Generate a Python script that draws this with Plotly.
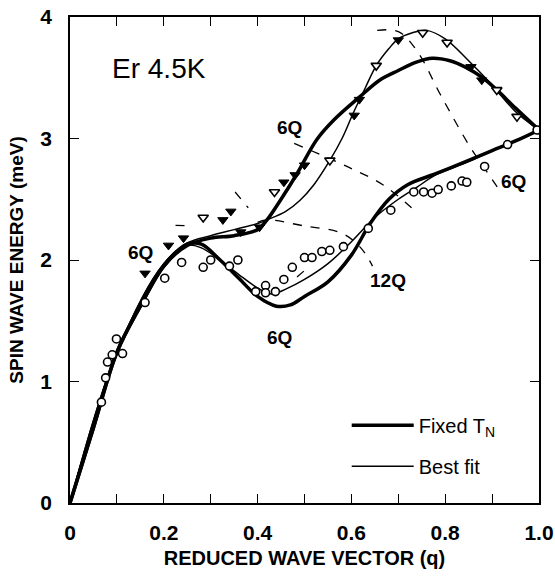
import plotly.graph_objects as go

# ---------------- data ----------------
# lower branch: open circles
circ_q = [0.067, 0.076, 0.080, 0.090, 0.099, 0.112, 0.160, 0.202, 0.238, 0.284, 0.300,
          0.340, 0.358, 0.396, 0.417, 0.417, 0.438, 0.456, 0.474, 0.500, 0.516, 0.537,
          0.554, 0.583, 0.636, 0.684, 0.733, 0.754, 0.772, 0.785, 0.813, 0.836, 0.846,
          0.884, 0.933, 0.996]
circ_E = [0.83, 1.03, 1.16, 1.22, 1.35, 1.23, 1.65, 1.85, 1.98, 1.94, 2.00,
          1.95, 2.00, 1.74, 1.79, 1.73, 1.74, 1.84, 1.94, 2.02, 2.02, 2.07,
          2.08, 2.11, 2.26, 2.41, 2.56, 2.56, 2.55, 2.58, 2.61, 2.65, 2.64,
          2.77, 2.95, 3.07]

# upper branch: open triangles
tri_open_q = [0.284, 0.436, 0.554, 0.653, 0.752, 0.804, 0.910, 0.953]
tri_open_E = [2.35, 2.56, 2.82, 3.60, 3.87, 3.79, 3.40, 3.18]

# upper branch: filled triangles
tri_fill_q = [0.160, 0.210, 0.242, 0.326, 0.343, 0.364, 0.404, 0.456, 0.480, 0.500,
              0.606, 0.617, 0.700, 0.855, 0.878]
tri_fill_E = [1.89, 2.12, 2.18, 2.33, 2.40, 2.23, 2.27, 2.64, 2.70, 2.78,
              3.19, 3.32, 3.81, 3.59, 3.48]

# Fixed T_N (thick) curves
fix_up_q = [0.0, 0.05, 0.10, 0.15, 0.20, 0.25, 0.30, 0.35, 0.40, 0.42, 0.45, 0.484,
            0.526, 0.562, 0.617, 0.66, 0.70, 0.74, 0.772, 0.81, 0.842, 0.88, 0.91, 0.95, 1.0]
fix_up_E = [0.0, 0.62, 1.24, 1.62, 1.95, 2.12, 2.18, 2.20, 2.25, 2.33, 2.50, 2.71,
            2.99, 3.15, 3.34, 3.48, 3.56, 3.63, 3.66, 3.64, 3.59, 3.50, 3.40, 3.25, 3.07]
fix_lo_q = [0.0, 0.05, 0.10, 0.15, 0.20, 0.25, 0.28, 0.32, 0.36, 0.40, 0.44, 0.47,
            0.50, 0.55, 0.60, 0.64, 0.68, 0.72, 0.78, 0.85, 0.90, 0.95, 1.0]
fix_lo_E = [0.0, 0.62, 1.24, 1.62, 1.95, 2.13, 2.13, 2.00, 1.85, 1.70, 1.62, 1.63,
            1.70, 1.82, 2.04, 2.30, 2.50, 2.62, 2.71, 2.82, 2.90, 2.98, 3.07]

# Best fit (thin) curves
fit_up_q = [0.0, 0.10, 0.20, 0.25, 0.30, 0.35, 0.40, 0.42, 0.46, 0.49, 0.52, 0.554,
            0.58, 0.604, 0.63, 0.653, 0.68, 0.70, 0.73, 0.76, 0.80, 0.85, 0.90, 0.95, 1.0]
fit_up_E = [0.0, 1.24, 1.97, 2.14, 2.20, 2.25, 2.30, 2.33, 2.40, 2.49, 2.62, 2.82,
            3.00, 3.21, 3.42, 3.60, 3.74, 3.82, 3.87, 3.89, 3.82, 3.64, 3.44, 3.22, 3.07]
fit_lo_q = [0.0, 0.10, 0.20, 0.25, 0.28, 0.32, 0.36, 0.40, 0.43, 0.46, 0.50, 0.55,
            0.60, 0.65, 0.70, 0.74, 0.78, 0.85, 0.90, 0.95, 1.0]
fit_lo_E = [0.0, 1.24, 1.97, 2.12, 2.10, 2.00, 1.88, 1.77, 1.72, 1.76, 1.84, 1.97,
            2.15, 2.35, 2.50, 2.60, 2.70, 2.81, 2.90, 2.98, 3.07]

# dashed harmonic (6Q / 12Q) guide lines
g6_right_q = [0.655, 0.700, 0.740, 0.790, 0.850, 0.890, 0.920]
g6_right_E = [3.89, 3.88, 3.72, 3.36, 2.95, 2.72, 2.55]
g6_mid_q = [0.478, 0.596, 0.667, 0.737]
g6_mid_E = [2.96, 2.76, 2.62, 2.40]
g12_q = [0.40, 0.42, 0.50, 0.58, 0.62, 0.645]
g12_E = [2.31, 2.33, 2.28, 2.22, 2.10, 1.95]
g6_a_q = [0.225, 0.262]
g6_a_E = [2.285, 2.28]
g6_b_q = [0.352, 0.380]
g6_b_E = [2.56, 2.43]
g6_c_q = [0.484, 0.505]
g6_c_E = [1.86, 1.93]

# tick labels
x_tickvals = [0.0, 0.1, 0.2, 0.3, 0.4, 0.5, 0.6, 0.7, 0.8, 0.9, 1.0]
x_ticktext = ["0", "", "0.2", "", "0.4", "", "0.6", "", "0.8", "", "1.0"]
y_tickvals = [0, 1, 2, 3, 4]
y_ticktext = ["0", "1", "2", "3", "4"]

# annotations text
labels = [("6Q", 0.150, 2.06), ("6Q", 0.467, 3.09), ("6Q", 0.945, 2.65),
          ("12Q", 0.678, 1.83), ("6Q", 0.446, 1.36)]

FONT = "Liberation Sans"
fig = go.Figure()

for gq, gE in [(g6_right_q, g6_right_E), (g6_mid_q, g6_mid_E), (g12_q, g12_E),
               (g6_a_q, g6_a_E), (g6_b_q, g6_b_E), (g6_c_q, g6_c_E)]:
    fig.add_trace(go.Scatter(x=gq, y=gE, mode="lines", showlegend=False,
                             line=dict(color="black", width=1.3, dash="dash", shape="spline"),
                             hoverinfo="skip"))

fig.add_trace(go.Scatter(x=fix_up_q, y=fix_up_E, mode="lines", name="Fixed T<sub>N</sub>",
                         legendgroup="a", line=dict(color="black", width=3.5, shape="spline")))
fig.add_trace(go.Scatter(x=fix_lo_q, y=fix_lo_E, mode="lines", showlegend=False,
                         legendgroup="a", line=dict(color="black", width=3.5, shape="spline")))
fig.add_trace(go.Scatter(x=fit_up_q, y=fit_up_E, mode="lines", name="Best fit",
                         legendgroup="b", line=dict(color="black", width=1.5, shape="spline")))
fig.add_trace(go.Scatter(x=fit_lo_q, y=fit_lo_E, mode="lines", showlegend=False,
                         legendgroup="b", line=dict(color="black", width=1.5, shape="spline")))

fig.add_trace(go.Scatter(x=circ_q, y=circ_E, mode="markers", showlegend=False,
                         marker=dict(symbol="circle", size=8, color="white",
                                     line=dict(color="black", width=1.6))))
fig.add_trace(go.Scatter(x=tri_open_q, y=tri_open_E, mode="markers", showlegend=False,
                         marker=dict(symbol="triangle-down", size=9, color="white",
                                     line=dict(color="black", width=1.6))))
fig.add_trace(go.Scatter(x=tri_fill_q, y=tri_fill_E, mode="markers", showlegend=False,
                         marker=dict(symbol="triangle-down", size=9, color="black",
                                     line=dict(color="black", width=1))))

annots = [dict(x=0.19, y=3.58, xref="x", yref="y", text="Er 4.5K", showarrow=False,
               font=dict(family=FONT, size=28, color="black"))]
for t, lx, ly in labels:
    annots.append(dict(x=lx, y=ly, xref="x", yref="y", text=t, showarrow=False,
                       font=dict(family=FONT, size=19, color="black", weight="bold")))

axis_common = dict(showline=True, linecolor="black", linewidth=1.5, mirror="ticks",
                   ticks="inside", tickcolor="black", ticklen=9, tickwidth=1.3,
                   showgrid=False, zeroline=False, automargin=False,
                   tickfont=dict(family=FONT, size=21, color="black", weight="bold"))

fig.update_layout(
    width=555, height=577,
    margin=dict(l=70, r=16, t=17, b=74),
    paper_bgcolor="white", plot_bgcolor="white",
    font=dict(family=FONT, color="black"),
    xaxis=dict(range=[0, 1.0], tickvals=x_tickvals, ticktext=x_ticktext,
               ticklabelstandoff=10, ticklabeloverflow="allow",
               title=dict(text="REDUCED WAVE VECTOR (q)", standoff=8,
                          font=dict(family=FONT, size=20, color="black", weight="bold")),
               **axis_common),
    yaxis=dict(range=[0, 4.0], tickvals=y_tickvals, ticktext=y_ticktext,
               ticklabelstandoff=12,
               title=dict(text="SPIN WAVE ENERGY (meV)", standoff=12,
                          font=dict(family=FONT, size=19, color="black", weight="bold")),
               **axis_common),
    legend=dict(x=0.59, y=0.2, xanchor="left", yanchor="top", bgcolor="rgba(0,0,0,0)",
                itemwidth=62, tracegroupgap=12,
                font=dict(family=FONT, size=20, color="black")),
    annotations=annots,
)

fig.write_html("out.html")
